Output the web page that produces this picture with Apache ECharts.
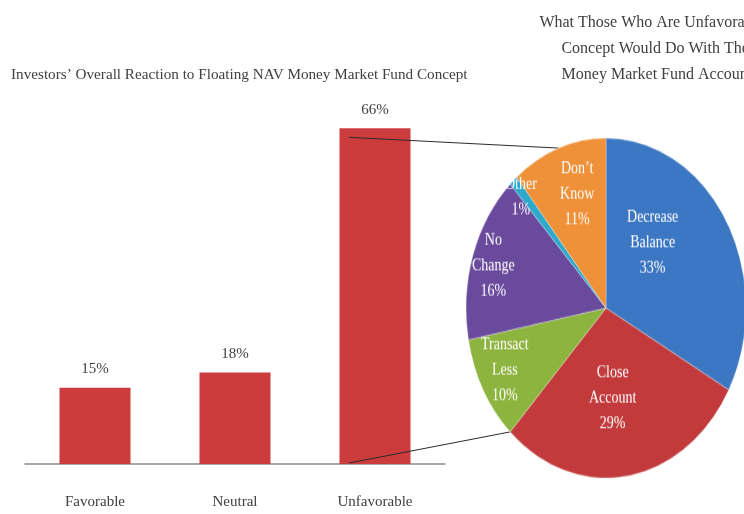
<!DOCTYPE html>
<html>
<head>
<meta charset="utf-8">
<script src="https://cdn.jsdelivr.net/npm/echarts@6/dist/echarts.min.js"></script>
<style>
  html, body { margin: 0; padding: 0; background: #fff; overflow: hidden; width: 744px; height: 514px; }
  #bars { position: absolute; left: 0; top: 0; width: 744px; height: 514px; }
  #pie { position: absolute; left: 456px; top: 158px; width: 288px; height: 300px;
         transform: scaleY(1.214); transform-origin: 50% 50%; }
</style>
</head>
<body>
<div id="bars"></div>
<div id="pie"></div>
<script>
// Overall reaction to the floating NAV concept
const categories = ['Favorable', 'Neutral', 'Unfavorable'];
const reaction = [15, 18, 66];

// What the unfavorable group would do with their accounts
const actionNames = ['Decrease\nBalance', 'Close\nAccount', 'Transact\nLess', 'No\nChange', 'Other', 'Don\u2019t\nKnow'];
const actionShares = [33, 29, 10, 16, 1, 11];
const actionColors = ['#3b77c3', '#c23a3b', '#8cb43f', '#6a4a9d', '#2ea9cc', '#ef9138'];

const barTitle = 'Investors\u2019 Overall Reaction to Floating NAV Money Market Fund Concept';
const pieTitle = ['What Those Who Are Unfavorable to', 'Concept Would Do With Their', 'Money Market Fund Accounts'];

// Label placement inside the pie: [fraction of radius, angle clockwise from 12 o'clock]
const labelPolar = [[0.49, 40], [0.51, 175], [0.79, 243], [0.82, 287], [0.87, 317], [0.68, 343]];

const FONT = "'Liberation Serif', 'DejaVu Serif', serif";
const TEXT = '#3f3f3f';

// Pie geometry (page pixels): centre, horizontal radius, vertical stretch
const PIE_R = 140;
const PIE_CX = 456 + 150;
const PIE_CY = 158 + 150;
const PIE_SY = 1.214;

const barChart = echarts.init(document.getElementById('bars'), null, { renderer: 'canvas' });
barChart.setOption({
  animation: false,
  backgroundColor: '#ffffff',
  title: {
    text: barTitle,
    left: 6, top: 63,
    textStyle: { fontFamily: FONT, fontSize: 15.2, fontWeight: 'normal', color: TEXT }
  },
  grid: { left: 25, right: 299, top: 108, bottom: 50, containLabel: false },
  xAxis: {
    type: 'category',
    data: categories,
    axisLine: { show: true, lineStyle: { color: '#8a8a8a', width: 1.5 } },
    axisTick: { show: false },
    axisLabel: { margin: 31, fontFamily: FONT, fontSize: 15, color: TEXT }
  },
  yAxis: { type: 'value', min: 0, max: 70, show: false, splitLine: { show: false } },
  series: [{
    type: 'bar',
    data: reaction,
    barWidth: 71,
    itemStyle: { color: '#cd3c3d' },
    label: {
      show: true, position: 'top', distance: 11,
      formatter: '{c}%', fontFamily: FONT, fontSize: 15, color: TEXT
    }
  }]
});

// Connector lines from the Unfavorable bar to the pie
const topPt = barChart.convertToPixel({ seriesIndex: 0 }, [2, reaction[2]]);
const basePt = barChart.convertToPixel({ seriesIndex: 0 }, [2, 0]);
const total = actionShares.reduce((a, b) => a + b, 0);
let cum = 0;
const midAngles = [], endAngles = [];
actionShares.forEach(v => { midAngles.push((cum + v / 2) / total * 360); cum += v; endAngles.push(cum / total * 360); });
function piePoint(angleDeg, r) {
  const a = angleDeg * Math.PI / 180;
  return [PIE_CX + Math.sin(a) * r, PIE_CY - Math.cos(a) * r * PIE_SY];
}
const topEnd = piePoint(midAngles[5], PIE_R);
const baseEnd = piePoint(endAngles[1], PIE_R);
const startX = topPt[0] - 26;

barChart.setOption({
  graphic: [
    { type: 'line', shape: { x1: startX, y1: topPt[1] + 9, x2: topEnd[0], y2: topEnd[1] },
      style: { stroke: '#2b2b2b', lineWidth: 1 }, z: 10 },
    { type: 'line', shape: { x1: startX, y1: basePt[1] - 1, x2: baseEnd[0], y2: baseEnd[1] },
      style: { stroke: '#2b2b2b', lineWidth: 1 }, z: 10 },
    { type: 'text', x: 660, y: 10,
      style: { text: pieTitle.join('\n'), font: '16px ' + FONT, fill: TEXT, align: 'center', lineHeight: 26 } }
  ]
});

// Pie of actions
const pieChart = echarts.init(document.getElementById('pie'), null, { renderer: 'canvas' });
const pieData = actionShares.map((v, i) => {
  const mid = midAngles[i] * Math.PI / 180;
  const def = [Math.sin(mid) * PIE_R / 2, -Math.cos(mid) * PIE_R / 2];
  const lp = labelPolar[i];
  const la = lp[1] * Math.PI / 180;
  const target = [Math.sin(la) * PIE_R * lp[0], -Math.cos(la) * PIE_R * lp[0]];
  return {
    name: actionNames[i],
    value: v,
    itemStyle: { color: actionColors[i] },
    label: { offset: [target[0] - def[0], target[1] - def[1]] }
  };
});
pieChart.setOption({
  animation: false,
  series: [{
    type: 'pie',
    center: [150, 150],
    radius: [0, PIE_R],
    startAngle: 90,
    clockwise: true,
    data: pieData,
    emphasis: { disabled: true },
    itemStyle: { borderColor: 'rgba(255,255,255,0.5)', borderWidth: 0.6 },
    label: {
      show: true, position: 'inside',
      formatter: p => p.name + '\n' + p.value + '%',
      fontFamily: FONT, fontSize: 14, lineHeight: 21, color: '#ffffff', align: 'center'
    },
    labelLine: { show: false }
  }]
});
</script>
</body>
</html>
